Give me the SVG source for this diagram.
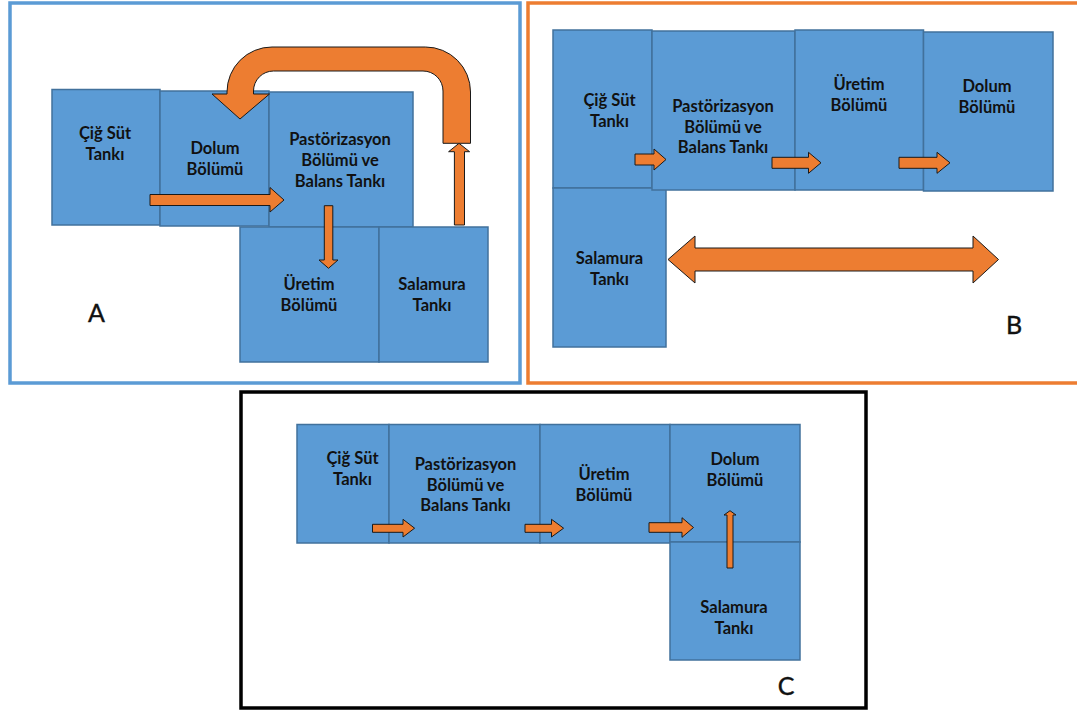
<svg xmlns="http://www.w3.org/2000/svg" width="1077" height="710" viewBox="0 0 1077 710">
<style>
.box{fill:#5B9BD5;stroke:#41719C;stroke-width:1.5}
.t{font-family:Lato,"Liberation Sans",sans-serif;font-weight:700;font-size:16.5px;fill:#111;text-anchor:middle}
.lbl{font-family:Lato,"Liberation Sans",sans-serif;font-size:25px;fill:#111;text-anchor:middle;stroke:#111;stroke-width:0.4}
.ar{fill:#ED7D31;stroke:#1a1a1a;stroke-width:1;stroke-linejoin:miter}
</style>
<rect width="1077" height="710" fill="#fff"/>
<g id="frames" fill="none" stroke-width="3.5">
<rect x="10" y="3" width="510" height="380" stroke="#5B9BD5"/>
<rect x="528" y="3" width="554" height="380" stroke="#ED7D31"/>
<rect x="241" y="392" width="625" height="316" stroke="#000"/>
</g>
<text class="lbl" x="96.5" y="322">A</text>
<text class="lbl" x="1014" y="334">B</text>
<text class="lbl" x="786" y="695">C</text>

<!-- Panel A -->
<g id="a-cig"><rect class="box" x="52" y="89.5" width="108" height="135.5"/><text class="t"><tspan x="105" y="139">Çiğ Süt</tspan><tspan x="105" y="160">Tankı</tspan></text></g>
<g id="a-dolum"><rect class="box" x="160" y="91" width="109" height="135"/><text class="t"><tspan x="215" y="154">Dolum</tspan><tspan x="215" y="175">Bölümü</tspan></text></g>
<g id="a-past"><rect class="box" x="269" y="92" width="144" height="135"/><text class="t"><tspan x="340" y="145">Pastörizasyon</tspan><tspan x="340" y="166">Bölümü ve</tspan><tspan x="340" y="187">Balans Tankı</tspan></text></g>
<g id="a-uretim"><rect class="box" x="240" y="227" width="139" height="135"/><text class="t"><tspan x="309" y="290">Üretim</tspan><tspan x="309" y="311">Bölümü</tspan></text></g>
<g id="a-salamura"><rect class="box" x="379" y="227" width="109" height="135"/><text class="t"><tspan x="432" y="290">Salamura</tspan><tspan x="432" y="311">Tankı</tspan></text></g>

<!-- Panel B -->
<g id="b-cig"><rect class="box" x="553" y="30" width="99" height="158"/><text class="t"><tspan x="609.5" y="106">Çiğ Süt</tspan><tspan x="609.5" y="127">Tankı</tspan></text></g>
<g id="b-salamura"><rect class="box" x="553" y="188" width="113" height="159"/><text class="t"><tspan x="609.5" y="264">Salamura</tspan><tspan x="609.5" y="285">Tankı</tspan></text></g>
<g id="b-past"><rect class="box" x="652" y="31" width="143" height="159"/><text class="t"><tspan x="723" y="112">Pastörizasyon</tspan><tspan x="723" y="133">Bölümü ve</tspan><tspan x="723" y="153">Balans Tankı</tspan></text></g>
<g id="b-uretim"><rect class="box" x="795" y="30" width="128.5" height="160"/><text class="t"><tspan x="859" y="90">Üretim</tspan><tspan x="859" y="111">Bölümü</tspan></text></g>
<g id="b-dolum"><rect class="box" x="923.5" y="32" width="129.5" height="159"/><text class="t"><tspan x="987" y="92">Dolum</tspan><tspan x="987" y="113">Bölümü</tspan></text></g>

<!-- Panel C -->
<g id="c-cig"><rect class="box" x="297" y="424.5" width="92" height="118.5"/><text class="t"><tspan x="352.5" y="464">Çiğ Süt</tspan><tspan x="352.5" y="485">Tankı</tspan></text></g>
<g id="c-past"><rect class="box" x="389" y="424.5" width="151" height="118.5"/><text class="t"><tspan x="465.5" y="470">Pastörizasyon</tspan><tspan x="465.5" y="491">Bölümü ve</tspan><tspan x="465.5" y="511">Balans Tankı</tspan></text></g>
<g id="c-uretim"><rect class="box" x="540" y="424.5" width="130" height="118.5"/><text class="t"><tspan x="604" y="480">Üretim</tspan><tspan x="604" y="501">Bölümü</tspan></text></g>
<g id="c-dolum"><rect class="box" x="670" y="424.5" width="130" height="117.5"/><text class="t"><tspan x="735" y="465">Dolum</tspan><tspan x="735" y="486">Bölümü</tspan></text></g>
<g id="c-salamura"><rect class="box" x="670" y="542" width="130" height="118"/><text class="t"><tspan x="734" y="613">Salamura</tspan><tspan x="734" y="634">Tankı</tspan></text></g>

<g id="connectors">
<!-- A -->
<path class="ar" d="M443,143.3 L470.5,143.3 L470.5,92 A45,45 0 0 0 425.5,47 L272,47 A45,45 0 0 0 227,92 L227,94 L212,94 L240,119 L269.5,94 L253.5,94 L253.5,91 A20,20 0 0 1 273.5,71 L423,71 A20,20 0 0 1 443,91 Z"/>
<path class="ar" d="M150,194.5 H270 V187.5 L284,200 L270,212 V205.5 H150 Z"/>
<path class="ar" d="M324.3,205.7 H332.8 V260 H338 L328.5,268.3 L319,260 H324.3 Z"/>
<path class="ar" d="M454.4,225 V151.7 H448.6 L459,143.3 L469.6,151.7 H464.5 V225 Z"/>
<!-- B -->
<path class="ar" d="M635,154 H654 V149 L666,159.5 L654,170 V165 H635 Z"/>
<path class="ar" d="M772,157.3 H808.5 V152.3 L821,162.8 L808.5,173.3 V168.3 H772 Z"/>
<path class="ar" d="M899,157.3 H937 V152.3 L950,162.8 L937,173.3 V168.3 H899 Z"/>
<path class="ar" d="M668,259.5 L695,236 V248 H973 V236 L998.5,259.5 L973,283 V271 H695 V283 Z"/>
<!-- C -->
<path class="ar" d="M372.5,524.3 H403 V519.3 L414.6,528.2 L403,537 V532.3 H372.5 Z"/>
<path class="ar" d="M525,524.3 H551.5 V519.3 L563.6,528.2 L551.5,537 V532.3 H525 Z"/>
<path class="ar" d="M649,522.7 H682 V517.7 L693.5,527.5 L682,537.3 V532.3 H649 Z"/>
<path class="ar" d="M727,568 V515 H724 L730,510.7 L736,515 H733 V568 Z"/>
</g>
</svg>
